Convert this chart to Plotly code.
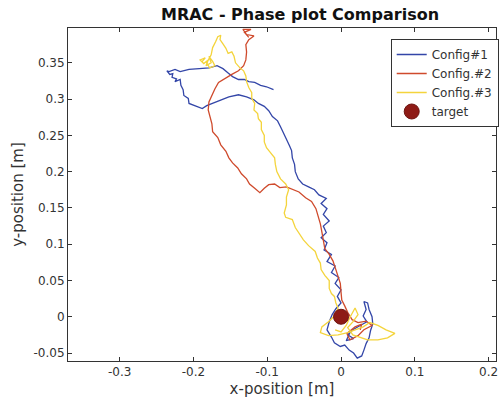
import plotly.graph_objects as go

# Trajectories in metres (x, y)
config1_x = [-0.0915, -0.101, -0.109, -0.117, -0.125, -0.131, -0.139, -0.147, -0.153, -0.160,
             -0.168, -0.179, -0.192, -0.206, -0.218, -0.225, -0.233, -0.236, -0.232, -0.228,
             -0.229, -0.223, -0.225, -0.218, -0.217, -0.214, -0.213, -0.207, -0.206, -0.198,
             -0.188, -0.182, -0.175, -0.164, -0.152, -0.139, -0.128, -0.118, -0.112, -0.104,
             -0.098, -0.093, -0.086, -0.082, -0.078, -0.073, -0.070, -0.067, -0.066, -0.063,
             -0.062, -0.058, -0.052, -0.044, -0.036, -0.030, -0.020, -0.027, -0.019, -0.024,
             -0.016, -0.024, -0.020, -0.027, -0.019, -0.023, -0.013, -0.019, -0.008, -0.013,
             -0.003, -0.008, 0.000, -0.005, 0.000, -0.007, -0.012, -0.016, -0.019, -0.013,
             -0.009, -0.001, 0.005, 0.011, 0.017, 0.022, 0.028, 0.031, 0.034, 0.038,
             0.040, 0.043, 0.042, 0.038, 0.036, 0.031, 0.034, 0.030, 0.035, 0.026,
             0.016, 0.009, 0.017, 0.007, 0.012]
config1_y = [0.313, 0.317, 0.319, 0.323, 0.324, 0.327, 0.327, 0.331, 0.336, 0.342,
             0.346, 0.343, 0.342, 0.341, 0.338, 0.341, 0.338, 0.339, 0.334, 0.335,
             0.330, 0.328, 0.324, 0.327, 0.319, 0.313, 0.305, 0.301, 0.294, 0.291,
             0.287, 0.291, 0.294, 0.298, 0.303, 0.306, 0.303, 0.299, 0.294, 0.290,
             0.284, 0.276, 0.270, 0.262, 0.254, 0.244, 0.236, 0.229, 0.219, 0.210,
             0.200, 0.190, 0.183, 0.179, 0.175, 0.168, 0.163, 0.156, 0.149, 0.141,
             0.132, 0.125, 0.116, 0.109, 0.102, 0.092, 0.086, 0.076, 0.070, 0.061,
             0.054, 0.046, 0.037, 0.028, 0.019, 0.011, 0.003, -0.007, -0.018, -0.028,
             -0.036, -0.041, -0.039, -0.046, -0.050, -0.057, -0.054, -0.046, -0.037, -0.029,
             -0.019, -0.010, 0.000, 0.010, 0.019, 0.021, 0.010, 0.001, -0.007, -0.012,
             -0.018, -0.025, -0.030, -0.033, -0.022]

config2_x = [-0.125, -0.131, -0.122, -0.133, -0.128, -0.118, -0.125, -0.129, -0.128, -0.129,
             -0.132, -0.139, -0.148, -0.157, -0.166, -0.171, -0.175, -0.179, -0.180, -0.178,
             -0.175, -0.174, -0.167, -0.163, -0.156, -0.152, -0.147, -0.140, -0.135, -0.128,
             -0.124, -0.117, -0.110, -0.104, -0.098, -0.090, -0.083, -0.074, -0.065, -0.057,
             -0.048, -0.040, -0.034, -0.031, -0.028, -0.026, -0.024, -0.022, -0.016, -0.011,
             -0.008, -0.004, -0.001, 0.000, 0.001, 0.005, 0.009, 0.015, 0.023, 0.034,
             0.042, 0.031, 0.023, 0.012, 0.008, 0.019, 0.028, 0.026]
config2_y = [0.385, 0.392, 0.396, 0.396, 0.389, 0.387, 0.382, 0.375, 0.365, 0.354,
             0.346, 0.339, 0.334, 0.328, 0.323, 0.314, 0.305, 0.296, 0.285, 0.276,
             0.266, 0.255, 0.247, 0.237, 0.228, 0.219, 0.212, 0.205, 0.197, 0.190,
             0.183, 0.177, 0.171, 0.177, 0.182, 0.183, 0.178, 0.179, 0.175, 0.172,
             0.164, 0.159, 0.149, 0.139, 0.128, 0.117, 0.105, 0.094, 0.086, 0.077,
             0.068, 0.057, 0.046, 0.034, 0.023, 0.015, 0.006, -0.004, -0.008, -0.006,
             -0.012, -0.018, -0.026, -0.032, -0.023, -0.014, -0.010, -0.018]

config3_x = [-0.188, -0.184, -0.191, -0.186, -0.180, -0.183, -0.176, -0.179, -0.174, -0.171,
             -0.178, -0.182, -0.176, -0.174, -0.170, -0.167, -0.163, -0.164, -0.160, -0.156,
             -0.153, -0.148, -0.145, -0.143, -0.137, -0.132, -0.129, -0.128, -0.125, -0.121,
             -0.121, -0.117, -0.118, -0.113, -0.112, -0.108, -0.108, -0.104, -0.104, -0.101,
             -0.097, -0.090, -0.089, -0.087, -0.082, -0.075, -0.071, -0.074, -0.074, -0.077,
             -0.075, -0.066, -0.062, -0.055, -0.051, -0.044, -0.035, -0.032, -0.028, -0.027,
             -0.022, -0.016, -0.016, -0.013, -0.009, -0.007, -0.004, -0.009, -0.017, -0.026,
             -0.028, -0.017, -0.004, 0.009, 0.020, 0.030, 0.039, 0.050, 0.061, 0.073,
             0.063, 0.050, 0.036, 0.026, 0.016, 0.009, 0.016, 0.023, 0.019, 0.012,
             0.007, 0.000, -0.008]
config3_y = [0.352, 0.357, 0.354, 0.349, 0.354, 0.346, 0.350, 0.359, 0.352, 0.346,
             0.343, 0.350, 0.361, 0.371, 0.379, 0.386, 0.388, 0.382, 0.376, 0.370,
             0.363, 0.365, 0.359, 0.350, 0.343, 0.339, 0.332, 0.324, 0.316, 0.309,
             0.301, 0.294, 0.285, 0.280, 0.273, 0.268, 0.258, 0.250, 0.241, 0.233,
             0.228, 0.219, 0.210, 0.200, 0.190, 0.183, 0.175, 0.165, 0.154, 0.143,
             0.137, 0.134, 0.123, 0.113, 0.106, 0.098, 0.090, 0.081, 0.074, 0.065,
             0.057, 0.050, 0.039, 0.032, 0.028, 0.019, 0.012, 0.001, -0.007, -0.014,
             -0.022, -0.026, -0.025, -0.022, -0.018, -0.014, -0.008, -0.012, -0.018, -0.023,
             -0.029, -0.032, -0.032, -0.029, -0.025, -0.015, -0.007, 0.003, 0.012, -0.001,
             -0.012, -0.021, -0.018]

target_x = [0.0]
target_y = [0.0]

x_ticks = [-0.3, -0.2, -0.1, 0, 0.1, 0.2]
x_tick_text = ["-0.3", "-0.2", "-0.1", "0", "0.1", "0.2"]
y_ticks = [-0.05, 0, 0.05, 0.1, 0.15, 0.2, 0.25, 0.3, 0.35]
y_tick_text = ["-0.05", "0", "0.05", "0.1", "0.15", "0.2", "0.25", "0.3", "0.35"]

FONT = "DejaVu Sans"
TXT = "#333333"

fig = go.Figure()
fig.add_trace(go.Scatter(x=config1_x, y=config1_y, mode="lines", name="Config#1",
                         line=dict(color="#3346A8", width=1.3)))
fig.add_trace(go.Scatter(x=config2_x, y=config2_y, mode="lines", name="Config.#2",
                         line=dict(color="#CF4A2C", width=1.3)))
fig.add_trace(go.Scatter(x=config3_x, y=config3_y, mode="lines", name="Config.#3",
                         line=dict(color="#F4D43C", width=1.3)))
fig.add_trace(go.Scatter(x=target_x, y=target_y, mode="markers", name="target",
                         marker=dict(color="#8E1B16", size=15,
                                     line=dict(color="#6E1410", width=1))))

axis_common = dict(showgrid=False, zeroline=False, showline=True, linecolor="#333333",
                   linewidth=1, mirror="ticks", ticks="inside", ticklen=4,
                   tickcolor="#333333", tickfont=dict(family=FONT, size=12, color=TXT))

fig.update_layout(
    width=500, height=404,
    margin=dict(l=68, r=1, t=28, b=43),
    paper_bgcolor="white", plot_bgcolor="white",
    title=dict(text="<b>MRAC - Phase plot Comparison</b>", x=0.6, xanchor="center",
               y=0.965, yanchor="middle", font=dict(family=FONT, size=16, color="#111111")),
    xaxis=dict(range=[-0.37, 0.21], tickvals=x_ticks, ticktext=x_tick_text,
               title=dict(text="x-position [m]", font=dict(family=FONT, size=15, color=TXT),
                          standoff=5), **axis_common),
    yaxis=dict(range=[-0.061, 0.398], tickvals=y_ticks, ticktext=y_tick_text,
               title=dict(text="y-position [m]", font=dict(family=FONT, size=15, color=TXT),
                          standoff=6), **axis_common),
    legend=dict(x=0.754, y=0.967, xanchor="left", yanchor="top",
                bgcolor="white", bordercolor="#333333", borderwidth=1,
                font=dict(family=FONT, size=12, color=TXT),
                tracegroupgap=0, itemwidth=30),
    showlegend=True,
)

fig.write_html("out.html")
